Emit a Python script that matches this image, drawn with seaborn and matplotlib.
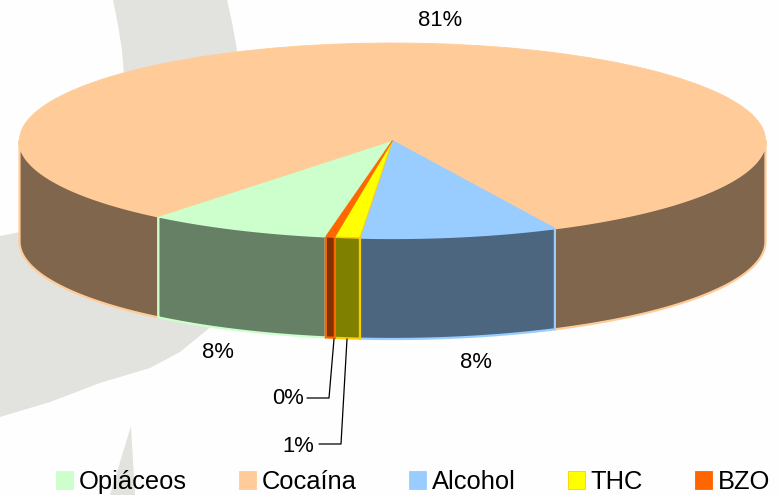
import numpy as np
import seaborn as sns
from matplotlib import pyplot as plt
from matplotlib.colors import to_rgb

W, H = 780, 495
CX, CY = 392.5, 140.5     # pie centre, pixels
RX, RY = 373, 97.5        # ellipse semi-axes, pixels
DEPTH = 101 / RY          # wall height in y units

categories = ['Opiáceos', 'Cocaína', 'Alcohol', 'THC', 'BZO']
values = [7.94, 82.03, 8.56, 1.08, 0.39]
pct_labels = ['81%', '8%', '8%', '0%', '1%']
pct_pos = [(440, 21), (218, 353), (476, 362), (288, 399), (298, 446)]
colors = ['#CCFFCC', '#FFCC99', '#99CCFF', '#FFFF00', '#FF6600']
edges = ['#CCFFCC', '#FFCC99', '#99CCFF', '#FFCC00', '#FF6600']
leader_0 = [(334, 339), (329, 398), (307, 398)]
leader_1 = [(347, 339), (341, 444), (319, 444)]

# grey watermark behind the chart
mark_top = [(113, 0), (227, 0), (232, 22), (237, 50), (238, 70),
            (124, 75), (122, 50), (118, 25)]
mark_left = [(0, 236), (30, 230), (240, 300), (207, 330), (180, 352),
             (150, 368), (100, 383), (50, 402), (0, 417)]
mark_spike = [(131, 426), (135, 495), (110, 495)]

sns.set_theme(style='white')
plt.rcParams['font.family'] = ['Liberation Sans', 'DejaVu Sans']


def to_data(points):
    pts = np.array(points, dtype=float)
    return (pts[:, 0] - CX) / RX, (CY - pts[:, 1]) / RY


fig = plt.figure(figsize=(W / 100, H / 100), dpi=100, facecolor='#FEFEFE')
ax = fig.add_axes([0, 0, 1, 1])

wedges, _ = ax.pie(values, colors=colors, startangle=259.7, counterclock=False,
                   frame=True, wedgeprops={'linewidth': 0.6, 'zorder': 5})
ax.set_aspect('auto')
ax.set_xlim(-CX / RX, (W - CX) / RX)
ax.set_ylim((CY - H) / RY, CY / RY)
ax.set_facecolor('none')
ax.set_xticks([])
ax.set_yticks([])
for spine in ax.spines.values():
    spine.set_visible(False)

for shape in (mark_top, mark_left, mark_spike):
    ax.fill(*to_data(shape), color='#E2E3DE', lw=0, zorder=1)

# outer wall: only the front half of each slice shows, big slice goes underneath
for i, (wedge, color, edge) in enumerate(zip(wedges, colors, edges)):
    wedge.set_edgecolor(edge)
    side = np.array(to_rgb(color)) * 0.5
    for shift in (-360, 0, 360):
        lo = max(wedge.theta1 + shift, 180)
        hi = min(wedge.theta2 + shift, 360)
        if hi <= lo:
            continue
        theta = np.radians(np.linspace(lo, hi, 120))
        x, y = np.cos(theta), np.sin(theta)
        ax.fill(np.r_[x, x[::-1]], np.r_[y, y[::-1] - DEPTH],
                facecolor=side, edgecolor=edge, lw=1.6,
                zorder=2 if categories[i] == 'Cocaína' else 3)

for leader in (leader_0, leader_1):
    ax.plot(*to_data(leader), color='black', lw=0.9, zorder=6)

for text, pos in zip(pct_labels, pct_pos):
    x, y = to_data([pos])
    ax.text(x[0], y[0], text, fontsize=15.8, ha='center', va='center',
            color='black', zorder=7)

ax.legend(wedges, categories, ncol=5, loc='center', frameon=False,
          bbox_to_anchor=(0.5 + 23 / W, 1 - 482 / H), fontsize=18.4, borderpad=0,
          handlelength=0.66, handleheight=0.66, handletextpad=0.23,
          columnspacing=2.05, labelcolor='black')

fig.savefig('out.png', dpi=100, facecolor=fig.get_facecolor())
